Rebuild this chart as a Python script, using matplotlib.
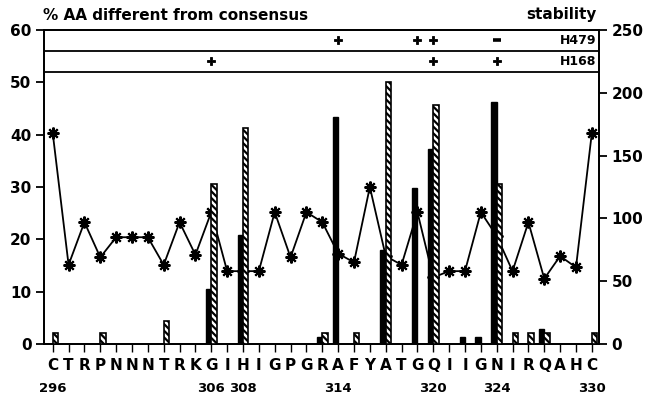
import matplotlib
matplotlib.use("Agg")
import matplotlib.pyplot as plt
from matplotlib.transforms import blended_transform_factory
import numpy as np

positions = list(range(296, 331))
residues = list("CTRPNNNTRKGIHIGPGRAFYATGQIIGNIRQAHC")
number_labels = [296, 306, 308, 314, 320, 324, 330]

# % AA different from consensus (solid bars / hatched bars)
solid = {306: 10.6, 308: 20.9, 313: 1.4, 314: 43.3, 317: 17.9, 319: 29.8,
         320: 37.3, 322: 1.4, 323: 1.4, 324: 46.3, 327: 2.9}
hatched = {296: 2.1, 299: 2.1, 303: 4.4, 306: 30.6, 308: 41.3, 313: 2.1,
           315: 2.1, 317: 50.0, 320: 45.6, 324: 30.5, 325: 2.1, 326: 2.1,
           327: 2.1, 330: 2.1}

# stability (right axis)
stability = [168, 63, 97, 69, 85, 85, 85, 63, 97, 71, 105, 58, 58, 58, 105,
             69, 105, 97, 72, 65, 125, 70, 63, 105, 53, 58, 58, 105, 86, 58,
             97, 52, 70, 61, 168]

# antibody rows
h479_plus = [314, 319, 320]
h479_minus = [324]
h168_plus = [306, 320, 324]

FONT = "DejaVu Sans"
plt.rcParams["font.family"] = FONT
plt.rcParams["font.weight"] = "bold"
plt.rcParams["hatch.linewidth"] = 1.6

fig = plt.figure(figsize=(6.46, 3.98), dpi=100)
ax = fig.add_axes([0.0681, 0.1357, 0.8591, 0.7889])
ax2 = ax.twinx()
ax.set_zorder(ax2.get_zorder() + 1)
ax.patch.set_visible(False)

w = 0.34
sx = list(solid.keys())
ax.bar([p - w / 2 for p in sx], list(solid.values()), width=w, color="black",
       edgecolor="black", linewidth=1.0, zorder=3)
hx = list(hatched.keys())
ax.bar([p + w / 2 for p in hx], list(hatched.values()), width=w, color="white",
       edgecolor="black", hatch="\\\\\\\\\\", linewidth=1.2, zorder=3)

ax2.plot(positions, stability, color="black", linewidth=1.3,
         marker=(8, 2, 0), markersize=8.5, markeredgewidth=1.5, zorder=2)

ax.set_xlim(295.45, 330.45)
ax.set_ylim(0, 60)
ax2.set_ylim(0, 250)

# header rows
for yv in (56, 52):
    ax.axhline(yv, color="black", linewidth=1.3, zorder=4)
ax.plot(h479_plus, [58] * len(h479_plus), linestyle="none", marker="P",
        markersize=5.5, color="black", markeredgewidth=0.6)
ax.plot(h479_minus, [58] * len(h479_minus), linestyle="none", marker="_",
        markersize=6, color="black", markeredgewidth=2.6)
ax.plot(h168_plus, [54] * len(h168_plus), linestyle="none", marker="P",
        markersize=5.5, color="black", markeredgewidth=0.6)
ax.text(330.3, 58, "H479", ha="right", va="center", fontsize=9, fontweight="bold")
ax.text(330.3, 54, "H168", ha="right", va="center", fontsize=9, fontweight="bold")

# axes styling
ax.set_yticks(range(0, 61, 10))
ax2.set_yticks(range(0, 251, 50))
ax.set_xticks(positions)
ax.set_xticklabels(residues)
for a in (ax, ax2):
    for s in a.spines.values():
        s.set_linewidth(1.3)
ax.tick_params(axis="y", direction="out", length=6, width=1.3, labelsize=11, pad=3)
ax2.tick_params(axis="y", direction="out", length=6, width=1.3, labelsize=11, pad=3)
ax.tick_params(axis="x", direction="out", length=6, width=1.0, labelsize=11, pad=4)
for lab in ax.get_xticklabels() + ax.get_yticklabels() + ax2.get_yticklabels():
    lab.set_fontweight("bold")

trans = blended_transform_factory(ax.transData, fig.transFigure)
for n in number_labels:
    ax.text(n, 1 - 389 / 398, str(n), transform=trans, ha="center", va="center",
            fontsize=9.5, fontweight="bold")

fig.text(43 / 646, 1 - 15 / 398, "% AA different from consensus", ha="left",
         va="center", fontsize=11, fontweight="bold")
fig.text(597 / 646, 1 - 15 / 398, "stability", ha="right", va="center",
         fontsize=11, fontweight="bold")

fig.savefig("out.png", dpi=100)
